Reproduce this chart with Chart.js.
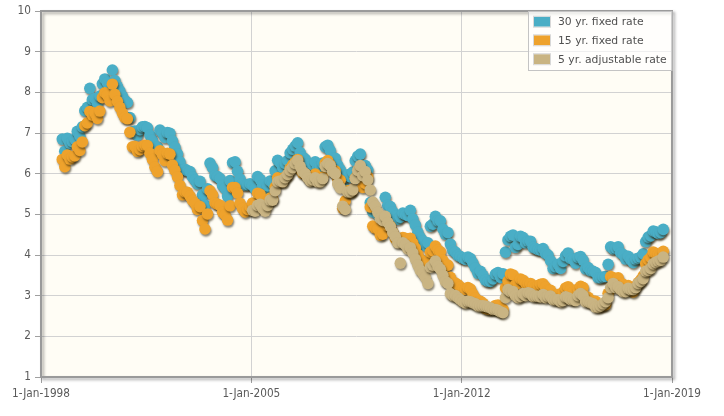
<!DOCTYPE html>
<html>
<head>
<meta charset="utf-8">
<script src="https://cdn.jsdelivr.net/npm/chart.js@4.4.1/dist/chart.umd.min.js"></script>
<style>
  html, body { margin: 0; padding: 0; background: #ffffff; }
  #wrap { width: 724px; height: 416px; }
</style>
</head>
<body>
<div id="wrap"><canvas id="c" width="724" height="416"></canvas></div>
<script>
// ---------- data (monthly readings) ----------
const seriesLabels = ['30 yr. fixed rate', '15 yr. fixed rate', '5 yr. adjustable rate'];
const seriesColors = ['#4aaec6', '#eea22c', '#c9b483'];
const xTickYears  = [1998, 2005, 2012, 2019];
const xTickLabels = ['1-Jan-1998', '1-Jan-2005', '1-Jan-2012', '1-Jan-2019'];
const yTickValues = [1, 2, 3, 4, 5, 6, 7, 8, 9, 10];

const start30  = [1998, 9];   // year, first month of the series
const start15  = [1998, 9];
const startArm = [2005, 1];

const rate30 = [
  6.85, 6.55, 6.87, 6.75,                                                   // 1998 Sep-Dec
  6.79, 6.85, 7.04, 6.92, 7.15, 7.55, 7.63, 8.10, 7.82, 7.85, 7.74, 7.91,   // 1999
  8.21, 8.33, 8.24, 8.15, 8.55, 8.29, 8.15, 8.03, 7.91, 7.80, 7.75, 7.38,   // 2000
  7.03, 7.05, 6.95, 7.08, 7.15, 7.16, 7.13, 6.95, 6.82, 6.62, 6.66, 7.07,   // 2001
  7.00, 6.89, 7.01, 6.99, 6.81, 6.65, 6.49, 6.29, 6.09, 6.11, 6.07, 6.05,   // 2002
  5.92, 5.84, 5.75, 5.81, 5.48, 5.23, 5.63, 6.26, 6.15, 5.95, 5.93, 5.88,   // 2003
  5.71, 5.64, 5.45, 5.83, 6.27, 6.29, 6.06, 5.87, 5.75, 5.72, 5.73, 5.75,   // 2004
  5.71, 5.63, 5.93, 5.86, 5.72, 5.58, 5.70, 5.82, 5.77, 6.07, 6.33, 6.27,   // 2005
  6.15, 6.25, 6.32, 6.51, 6.60, 6.68, 6.76, 6.52, 6.40, 6.36, 6.24, 6.14,   // 2006
  6.22, 6.29, 6.16, 6.18, 6.26, 6.66, 6.70, 6.57, 6.38, 6.38, 6.21, 6.10,   // 2007
  5.76, 5.92, 5.97, 5.92, 6.04, 6.32, 6.43, 6.48, 6.04, 6.20, 6.09, 5.29,   // 2008
  5.06, 5.13, 5.00, 4.81, 4.86, 5.42, 5.22, 5.19, 5.06, 4.95, 4.88, 4.93,   // 2009
  5.03, 4.99, 4.97, 5.10, 4.89, 4.74, 4.56, 4.43, 4.35, 4.23, 4.30, 4.71,   // 2010
  4.76, 4.95, 4.84, 4.84, 4.64, 4.51, 4.55, 4.27, 4.11, 4.07, 3.99, 3.96,   // 2011
  3.92, 3.89, 3.95, 3.91, 3.80, 3.68, 3.55, 3.60, 3.50, 3.38, 3.35, 3.35,   // 2012
  3.41, 3.53, 3.57, 3.45, 3.54, 4.07, 4.37, 4.46, 4.49, 4.19, 4.26, 4.46,   // 2013
  4.43, 4.30, 4.34, 4.34, 4.19, 4.16, 4.13, 4.12, 4.16, 4.04, 4.00, 3.86,   // 2014
  3.67, 3.71, 3.77, 3.67, 3.84, 3.98, 4.05, 3.91, 3.89, 3.80, 3.94, 3.96,   // 2015
  3.87, 3.66, 3.69, 3.61, 3.60, 3.57, 3.44, 3.44, 3.46, 3.47, 3.77, 4.20,   // 2016
  4.15, 4.17, 4.20, 4.05, 4.01, 3.90, 3.97, 3.88, 3.81, 3.90, 3.92, 3.95,   // 2017
  4.03, 4.33, 4.44, 4.47, 4.59, 4.57, 4.53, 4.55, 4.63                      // 2018 Jan-Sep
];

const rate15 = [
  6.35, 6.17, 6.46, 6.36,                                                   // 1998 Sep-Dec
  6.41, 6.44, 6.66, 6.57, 6.78, 7.18, 7.25, 7.53, 7.44, 7.49, 7.36, 7.54,   // 1999
  7.87, 7.99, 7.93, 7.79, 8.20, 7.95, 7.78, 7.63, 7.49, 7.38, 7.35, 7.02,   // 2000
  6.66, 6.67, 6.55, 6.59, 6.67, 6.70, 6.69, 6.50, 6.35, 6.16, 6.05, 6.56,   // 2001
  6.47, 6.32, 6.50, 6.48, 6.21, 6.08, 5.92, 5.71, 5.48, 5.55, 5.54, 5.45,   // 2002
  5.34, 5.27, 5.12, 5.19, 4.85, 4.64, 5.01, 5.58, 5.48, 5.28, 5.25, 5.22,   // 2003
  5.05, 4.99, 4.86, 5.21, 5.66, 5.66, 5.52, 5.27, 5.14, 5.06, 5.12, 5.18,   // 2004
  5.28, 5.21, 5.52, 5.49, 5.31, 5.20, 5.33, 5.40, 5.38, 5.67, 5.90, 5.87,   // 2005
  5.80, 5.92, 5.98, 6.13, 6.22, 6.28, 6.35, 6.10, 6.01, 6.00, 5.92, 5.85,   // 2006
  5.91, 5.99, 5.87, 5.89, 5.92, 6.26, 6.32, 6.22, 6.06, 6.07, 5.88, 5.84,   // 2007
  5.15, 5.33, 5.58, 5.54, 5.60, 5.89, 5.97, 6.02, 5.66, 5.76, 5.92, 5.18,   // 2008
  4.71, 4.66, 4.64, 4.49, 4.51, 4.90, 4.72, 4.71, 4.56, 4.40, 4.33, 4.39,   // 2009
  4.43, 4.41, 4.31, 4.41, 4.29, 4.17, 4.01, 3.89, 3.85, 3.72, 3.83, 4.07,   // 2010
  4.10, 4.22, 4.12, 4.08, 3.87, 3.71, 3.75, 3.45, 3.30, 3.31, 3.27, 3.21,   // 2011
  3.17, 3.15, 3.20, 3.16, 3.04, 2.94, 2.85, 2.86, 2.81, 2.69, 2.67, 2.66,   // 2012
  2.69, 2.76, 2.77, 2.63, 2.67, 3.19, 3.36, 3.53, 3.51, 3.26, 3.30, 3.41,   // 2013
  3.38, 3.31, 3.30, 3.30, 3.24, 3.21, 3.25, 3.28, 3.29, 3.21, 3.13, 3.13,   // 2014
  3.00, 2.99, 3.03, 2.94, 3.09, 3.19, 3.22, 3.15, 3.08, 3.02, 3.17, 3.23,   // 2015
  3.20, 2.98, 2.96, 2.87, 2.87, 2.86, 2.76, 2.76, 2.77, 2.78, 3.06, 3.47,   // 2016
  3.44, 3.39, 3.44, 3.31, 3.28, 3.19, 3.25, 3.17, 3.09, 3.23, 3.32, 3.39,   // 2017
  3.49, 3.79, 3.88, 3.94, 4.07, 4.04, 4.02, 4.02, 4.09                      // 2018 Jan-Sep
];

const rateArm = [
  5.10, 5.08, 5.22, 5.25, 5.15, 5.08, 5.22, 5.35, 5.35, 5.58, 5.80, 5.82,   // 2005
  5.80, 5.90, 5.98, 6.08, 6.15, 6.25, 6.32, 6.18, 6.05, 6.00, 5.90, 5.82,   // 2006
  5.85, 5.90, 5.80, 5.80, 5.88, 6.18, 6.25, 6.20, 6.05, 6.00, 5.75, 5.65,   // 2007
  5.20, 5.12, 5.55, 5.55, 5.60, 5.88, 6.08, 6.20, 5.95, 6.05, 5.85, 5.60,   // 2008
  5.30, 5.20, 5.05, 4.90, 4.85, 4.95, 4.80, 4.70, 4.55, 4.45, 4.30, 3.80,   // 2009
  4.30, 4.25, 4.15, 4.18, 4.05, 3.90, 3.75, 3.62, 3.55, 3.45, 3.30, 3.70,   // 2010
  3.75, 3.85, 3.72, 3.65, 3.50, 3.35, 3.30, 3.05, 3.00, 3.00, 2.95, 2.90,   // 2011
  2.85, 2.82, 2.86, 2.85, 2.82, 2.80, 2.75, 2.75, 2.75, 2.74, 2.72, 2.70,   // 2012
  2.66, 2.66, 2.64, 2.60, 2.58, 2.95, 3.15, 3.10, 3.10, 3.00, 2.95, 2.98,   // 2013
  3.05, 3.00, 3.07, 3.05, 2.98, 2.99, 2.98, 2.97, 3.03, 2.95, 2.98, 2.99,   // 2014
  2.90, 2.90, 2.90, 2.85, 2.88, 2.97, 2.95, 2.90, 2.90, 2.88, 3.00, 3.05,   // 2015
  3.00, 2.85, 2.85, 2.82, 2.80, 2.72, 2.72, 2.75, 2.80, 2.85, 2.95, 3.20,   // 2016
  3.30, 3.20, 3.22, 3.15, 3.10, 3.10, 3.18, 3.15, 3.15, 3.20, 3.30, 3.35,   // 2017
  3.42, 3.60, 3.62, 3.67, 3.78, 3.82, 3.85, 3.87, 3.95                      // 2018 Jan-Sep
];

// ---------- helpers ----------
function toPoints(start, values) {
  return values.map((v, i) => {
    const m = start[1] - 1 + i;
    return { x: start[0] + Math.floor(m / 12) + ((m % 12) + 0.5) / 12, y: v };
  });
}
function fitFontSize(family, text, targetWidth) {
  const ctx = document.createElement('canvas').getContext('2d');
  ctx.font = '20px ' + family;
  const w = ctx.measureText(text).width;
  return Math.round(20 * targetWidth / w * 10) / 10;
}

const tickFamily = '"DejaVu Sans Condensed", "Liberation Sans Narrow", sans-serif';
const legendFamily = '"DejaVu Sans", Verdana, sans-serif';
const tickSize = Math.min(12, fitFontSize(tickFamily, xTickLabels[0], 58));
const legendSize = Math.min(12.5, fitFontSize(legendFamily, seriesLabels[2], 109));

// ---------- plugins ----------
const plotFrame = {
  id: 'plotFrame',
  beforeDraw(chart) {
    const a = chart.chartArea, ctx = chart.ctx;
    ctx.save();
    ctx.fillStyle = '#fffdf5';
    ctx.fillRect(a.left, a.top, a.right - a.left, a.bottom - a.top);
    ctx.restore();
  },
  beforeDatasetsDraw(chart) {
    const a = chart.chartArea, ctx = chart.ctx;
    ctx.save();
    ctx.shadowColor = 'rgba(0,0,0,0.35)';
    ctx.shadowOffsetX = 2;
    ctx.shadowOffsetY = 2;
    ctx.shadowBlur = 3;
    ctx.strokeStyle = '#9a9a9a';
    ctx.lineWidth = 2;
    ctx.strokeRect(a.left, a.top, a.right - a.left, a.bottom - a.top);
    ctx.restore();
    // shadow for the markers
    ctx.save();
    ctx.shadowColor = 'rgba(45,35,10,0.55)';
    ctx.shadowOffsetX = 1;
    ctx.shadowOffsetY = 2;
    ctx.shadowBlur = 2;
  },
  afterDatasetsDraw(chart) {
    chart.ctx.restore();
  },
  afterDraw(chart) {
    const a = chart.chartArea, ctx = chart.ctx;
    const bx = 528.5, by = 11.5, bw = a.right - 528.5, bh = 59;
    ctx.save();
    ctx.fillStyle = 'rgba(255,255,255,0.65)';
    ctx.fillRect(bx, by, bw, bh);
    ctx.strokeStyle = '#c4c4c4';
    ctx.lineWidth = 1;
    ctx.strokeRect(bx, by, bw, bh);
    const rowY = [21.7, 40.3, 59.2];
    ctx.font = legendSize + 'px ' + legendFamily;
    ctx.textBaseline = 'middle';
    chart.data.datasets.forEach((ds, i) => {
      const y = rowY[i];
      ctx.fillStyle = ds.backgroundColor;
      ctx.fillRect(534, y - 5, 16, 10);
      ctx.strokeStyle = '#d8d8d8';
      ctx.strokeRect(533.5, y - 5.5, 17, 11);
      ctx.fillStyle = '#505050';
      ctx.fillText(ds.label, 558, y + 0.5);
    });
    ctx.restore();
  }
};

const ctx = document.getElementById('c').getContext('2d');
new Chart(ctx, {
  type: 'scatter',
  data: {
    datasets: [
      { label: seriesLabels[0], data: toPoints(start30, rate30), backgroundColor: seriesColors[0], order: 3 },
      { label: seriesLabels[1], data: toPoints(start15, rate15), backgroundColor: seriesColors[1], order: 2 },
      { label: seriesLabels[2], data: toPoints(startArm, rateArm), backgroundColor: seriesColors[2], order: 1 }
    ]
  },
  options: {
    responsive: false,
    animation: false,
    devicePixelRatio: 1,
    layout: { padding: { top: 11, right: 52, left: 0, bottom: 0 } },
    elements: { point: { radius: 5.8, borderWidth: 0, hoverRadius: 5.8 } },
    plugins: { legend: { display: false }, tooltip: { enabled: false } },
    scales: {
      x: {
        type: 'linear',
        min: xTickYears[0],
        max: xTickYears[xTickYears.length - 1],
        afterBuildTicks(scale) { scale.ticks = xTickYears.map(v => ({ value: v })); },
        afterFit(scale) { scale.height = 39; },
        border: { display: false },
        grid: { color: '#d2d2d2', lineWidth: 1, tickLength: 6, tickColor: '#a0a0a0', drawTicks: true },
        ticks: {
          padding: 4,
          color: '#5a5a5a',
          font: { family: tickFamily, size: tickSize },
          maxRotation: 0,
          autoSkip: false,
          callback: (v) => xTickLabels[xTickYears.indexOf(v)]
        }
      },
      y: {
        type: 'linear',
        min: yTickValues[0],
        max: yTickValues[yTickValues.length - 1],
        afterBuildTicks(scale) { scale.ticks = yTickValues.map(v => ({ value: v })); },
        afterFit(scale) { scale.width = 41; },
        border: { display: false },
        grid: { color: '#d2d2d2', lineWidth: 1, tickLength: 6, tickColor: '#a0a0a0', drawTicks: true },
        ticks: {
          padding: 4,
          color: '#5a5a5a',
          font: { family: tickFamily, size: tickSize },
          callback: (v) => String(v)
        }
      }
    }
  },
  plugins: [plotFrame]
});
</script>
</body>
</html>
